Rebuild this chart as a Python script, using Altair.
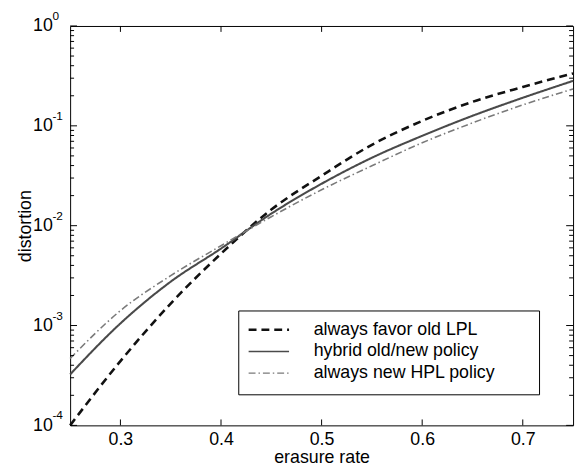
import altair as alt
import pandas as pd

# ---- data ----
x_vals = [0.25, 0.30, 0.35, 0.40, 0.45, 0.50, 0.55, 0.60, 0.65, 0.70, 0.75]
series_names = ["always favor old LPL", "hybrid old/new policy", "always new HPL policy"]
favor_old = [1.0e-4, 4.4e-4, 1.66e-3, 5.25e-3, 1.45e-2, 3.16e-2, 6.46e-2, 0.112, 0.174, 0.245, 0.335]
hybrid = [3.24e-4, 1.05e-3, 2.75e-3, 5.9e-3, 1.32e-2, 2.63e-2, 4.79e-2, 7.94e-2, 0.126, 0.191, 0.282]
always_new = [4.68e-4, 1.41e-3, 3.16e-3, 6.3e-3, 1.23e-2, 2.29e-2, 3.98e-2, 6.76e-2, 0.107, 0.162, 0.234]

x_ticks = [0.3, 0.4, 0.5, 0.6, 0.7]
y_major = [1e-4, 1e-3, 1e-2, 1e-1, 1.0]
y_exponents = ["-4", "-3", "-2", "-1", "0"]
y_minor = [m * 10.0 ** k for k in range(-4, 0) for m in range(2, 10)]

# styles
colors = ["#111111", "#4a4a4a", "#7a7a7a"]
dashes = [[8, 5], [1, 0], [7, 3, 1.5, 3]]
widths = [2.6, 1.6, 1.3]

df = pd.DataFrame({
    "erasure rate": x_vals * 3,
    "distortion": favor_old + hybrid + always_new,
    "series": [n for n in series_names for _ in x_vals],
})

W, H = 510, 405
FONT = "Liberation Sans"
xscale = alt.Scale(domain=[0.25, 0.75], nice=False, zero=False)
yscale = alt.Scale(type="log", domain=[1e-4, 1], nice=False)

x_axis = alt.Axis(values=x_ticks, format=".1f", title="erasure rate", ticks=False,
                  domain=False, grid=False, labelPadding=5, titlePadding=1,
                  labelFontSize=18, titleFontSize=18, labelFont=FONT, titleFont=FONT,
                  titleFontWeight="normal", labelColor="black", titleColor="black")
y_axis = alt.Axis(values=y_major, labelExpr="'10'", title="distortion", ticks=False,
                  domain=False, grid=False, labelPadding=18, titlePadding=-2,
                  labelFontSize=18, titleFontSize=18, labelFont=FONT, titleFont=FONT,
                  titleFontWeight="normal", labelColor="black", titleColor="black")

lines = alt.Chart(df).mark_line(interpolate="monotone").encode(
    x=alt.X("erasure rate:Q", scale=xscale, axis=x_axis),
    y=alt.Y("distortion:Q", scale=yscale, axis=y_axis),
    color=alt.Color("series:N", scale=alt.Scale(domain=series_names, range=colors), legend=None),
    strokeDash=alt.StrokeDash("series:N", scale=alt.Scale(domain=series_names, range=dashes), legend=None),
    strokeWidth=alt.StrokeWidth("series:N", scale=alt.Scale(domain=series_names, range=widths), legend=None),
)

ymaj = pd.DataFrame({"v": y_major, "e": y_exponents})
ymin = pd.DataFrame({"v": y_minor})
xt = pd.DataFrame({"t": x_ticks})

def yticks(data, x0, x1):
    return alt.Chart(data).mark_rule(color="black", strokeWidth=1).encode(
        y=alt.Y("v:Q", scale=yscale, axis=y_axis), x=alt.value(x0), x2=alt.value(x1))

def xticks(y0, y1):
    return alt.Chart(xt).mark_rule(color="black", strokeWidth=1).encode(
        x=alt.X("t:Q", scale=xscale, axis=x_axis), y=alt.value(y0), y2=alt.value(y1))

exponents = alt.Chart(ymaj).mark_text(
    align="left", baseline="alphabetic", dy=-6, fontSize=12, font=FONT, color="black"
).encode(y=alt.Y("v:Q", scale=yscale, axis=y_axis), x=alt.value(-18), text="e:N")

# ---- legend box (inside plot, lower right) ----
one = pd.DataFrame({"k": [0]})
LX0, LX1, LY0, LY1 = 171, 476, 289, 374
legend_layers = [
    alt.Chart(one).mark_rect(fill="white", stroke="black", strokeWidth=1).encode(
        x=alt.value(LX0), x2=alt.value(LX1), y=alt.value(LY0), y2=alt.value(LY1))
]
for i, name in enumerate(series_names):
    ry = 308 + 22 * i
    legend_layers.append(
        alt.Chart(one).mark_rule(color=colors[i], strokeDash=dashes[i], strokeWidth=widths[i]).encode(
            x=alt.value(181), x2=alt.value(222), y=alt.value(ry)))
    legend_layers.append(
        alt.Chart(one).mark_text(align="left", baseline="middle", fontSize=18, font=FONT, color="black").encode(
            x=alt.value(247), y=alt.value(ry), text=alt.value(name)))

chart = alt.layer(
    lines,
    yticks(ymaj, 0, 7), yticks(ymin, 0, 4),
    yticks(ymaj, W, W - 7), yticks(ymin, W, W - 4),
    xticks(H, H - 6), xticks(0, 6),
    exponents,
    *legend_layers,
).properties(
    width=W, height=H,
    autosize=alt.AutoSizeParams(type="none"),
    padding={"left": 63, "top": 15, "right": 5, "bottom": 41},
    background="white",
).configure_view(stroke="black", strokeWidth=1)

chart.save("out.html", embed_options={"renderer": "svg", "actions": False})
